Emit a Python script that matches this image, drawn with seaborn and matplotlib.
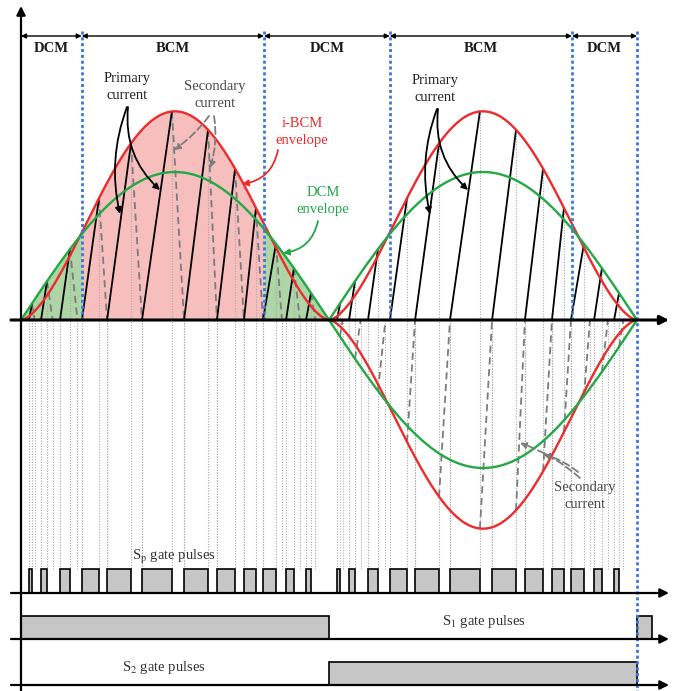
import numpy as np
import pandas as pd
import matplotlib
matplotlib.use("Agg")
import matplotlib.pyplot as plt
import seaborn as sns

# ---- switching pattern over one half line cycle (electrical degrees) ----
on_deg = [4.7, 11.7, 22.8, 35.6, 50.3, 70.7, 95.3, 114.5, 130.3, 141.4, 154.9, 166.6]
off_deg = [6.4, 15.2, 28.6, 45.6, 64.3, 88.2, 109.3, 125.1, 137.3, 149.0, 159.5, 169.5]
sec_end_deg = [8.0, 18.5, 33.0, 50.3, 70.7, 95.3, 114.5, 130.3, 141.4, 152.5, 163.0, 172.0]
pulse_mode = ["DCM", "DCM", "DCM", "BCM", "BCM", "BCM",
              "BCM", "BCM", "BCM", "DCM", "DCM", "DCM"]

# operating-mode segments across the full line cycle
mode_bounds = [0.0, 35.5, 142.0, 215.5, 322.0, 360.0]
mode_labels = ["DCM", "BCM", "DCM", "BCM", "DCM"]

# envelope amplitudes (per unit of the DCM peak) and i-BCM envelope shape
dcm_peak = 1.0
bcm_peak = 1.41
bcm_shape_exp = 1.6

# line-frequency switch gate signals
s1_on = [0.0, 360.0]
s1_off = [180.0, 368.5]
s2_on = [180.0]
s2_off = [360.0]

# ---- layout ----
W, H = 679, 691
X0 = 21                      # vertical axis position (px)
PX_PER_DEG = 308 / 180
Y_ZERO, AMP_PX = 320, 148    # current trace baseline and scale
SP_BASE, SP_H = 593, 24
S1_BASE, S1_H = 639, 23
S2_BASE, S2_H = 685, 23

RED, GREEN, BLUE = "#EE2B2B", "#22A845", "#3C78D8"
PINK_FILL, GREEN_FILL = "#F7BEBE", "#AED5A6"
GUIDE, SEC_GRAY, PULSE_FILL = "#A8A8A8", "#7C7C7C", "#C6C6C6"
SERIF = "Liberation Serif"


def dx(px):
    return (px - X0) / PX_PER_DEG


def cur_y(i):
    return Y_ZERO - np.asarray(i) * AMP_PX


def dcm_env(th):
    return dcm_peak * np.sin(np.radians(th))


def bcm_env(th):
    return bcm_peak * np.abs(np.sin(np.radians(th))) ** bcm_shape_exp


sns.set_theme(style="white")
plt.rcParams["font.family"] = [SERIF, "DejaVu Serif"]
plt.rcParams["mathtext.fontset"] = "stix"

fig = plt.figure(figsize=(W / 100, H / 100), dpi=100)
ax = fig.add_axes([0, 0, 1, 1])

theta = np.linspace(0, 180, 721)

# ---- filled areas (first half cycle) ----
bcm_mask = (theta >= mode_bounds[1]) & (theta <= mode_bounds[2])
ax.fill_between(theta[bcm_mask], Y_ZERO, cur_y(bcm_env(theta[bcm_mask])),
                color=PINK_FILL, lw=0, zorder=1)
for a, b in [(mode_bounds[0], mode_bounds[1]), (mode_bounds[2], 180.0)]:
    m = (theta >= a) & (theta <= b)
    ax.fill_between(theta[m], Y_ZERO, cur_y(dcm_env(theta[m])),
                    color=GREEN_FILL, lw=0, zorder=1)

# ---- ramps, secondary currents and guides ----
ramp_rows, sec_rows, guides = [], [], []
seg = 0
for half, sign in [(0.0, 1), (180.0, -1)]:
    for t_on, t_off, t_end, mode in zip(on_deg, off_deg, sec_end_deg, pulse_mode):
        pk = bcm_env(t_off) if mode == "BCM" else dcm_env(t_off)
        ramp_rows += [(seg, t_on + half, Y_ZERO), (seg, t_off + half, cur_y(pk))]
        sec_peak = cur_y(pk) if sign > 0 else cur_y(-pk)
        sec_rows += [(seg, t_off + half, sec_peak), (seg, t_end + half, Y_ZERO)]
        guides += [(t_on + half, Y_ZERO), (t_off + half, cur_y(pk)),
                   (t_end + half, Y_ZERO)]
        seg += 1
ramps = pd.DataFrame(ramp_rows, columns=["seg", "deg", "y"])
secs = pd.DataFrame(sec_rows, columns=["seg", "deg", "y"])

gx = [g[0] for g in guides]
gy = [g[1] for g in guides]
ax.vlines(gx, gy, SP_BASE - SP_H, colors=GUIDE, lw=0.8,
          linestyles=(0, (1, 1.4)), zorder=1.5)

sns.lineplot(data=secs, x="deg", y="y", units="seg", estimator=None, sort=False,
             color=SEC_GRAY, lw=1.3, linestyle=(0, (4, 2.5)), ax=ax, zorder=2)
sns.lineplot(data=ramps, x="deg", y="y", units="seg", estimator=None, sort=False,
             color="black", lw=1.3, ax=ax, zorder=2.5)

# ---- envelopes ----
env_rows = []
for name, fn in [("i-BCM", bcm_env), ("DCM", dcm_env)]:
    v = fn(theta)
    env_rows.append(pd.DataFrame({"deg": theta, "y": cur_y(v), "curve": name, "branch": name + "1"}))
    env_rows.append(pd.DataFrame({"deg": theta + 180, "y": cur_y(v), "curve": name, "branch": name + "2"}))
    env_rows.append(pd.DataFrame({"deg": theta + 180, "y": cur_y(-v), "curve": name, "branch": name + "3"}))
env = pd.concat(env_rows, ignore_index=True)
sns.lineplot(data=env, x="deg", y="y", hue="curve", units="branch", estimator=None,
             sort=False, palette={"i-BCM": RED, "DCM": GREEN}, lw=1.7,
             legend=False, ax=ax, zorder=3)

# ---- mode boundaries ----
for b in mode_bounds[1:-1]:
    ax.vlines(b, 31, Y_ZERO, colors=BLUE, lw=2.0, linestyles=(0, (1.1, 1.0)), zorder=5)
ax.vlines(mode_bounds[-1], 31, H, colors=BLUE, lw=2.0, linestyles=(0, (1.1, 1.0)), zorder=5)

for a, b, lab in zip(mode_bounds[:-1], mode_bounds[1:], mode_labels):
    ax.annotate("", xy=(b, 36), xytext=(a, 36),
                arrowprops=dict(arrowstyle="<|-|>", color="black", lw=1.0,
                                mutation_scale=7, shrinkA=0, shrinkB=0), zorder=6)
    ax.text((a + b) / 2, 48, lab, ha="center", va="center", fontsize=10.5,
            fontweight="bold", color="#1a1a1a", zorder=6)

# ---- gate pulses ----
def gate(ons, offs, base, h):
    ax.bar(ons, -h, width=np.subtract(offs, ons), bottom=base, align="edge",
           color=PULSE_FILL, edgecolor="black", lw=1.2, zorder=3)

gate(on_deg + [t + 180 for t in on_deg], off_deg + [t + 180 for t in off_deg], SP_BASE, SP_H)
gate(s1_on, s1_off, S1_BASE, S1_H)
gate(s2_on, s2_off, S2_BASE, S2_H)

# ---- axes arrows ----
axis_arrow = dict(arrowstyle="-|>", color="black", mutation_scale=13, shrinkA=0, shrinkB=0)
ax.annotate("", xy=(dx(669), Y_ZERO), xytext=(dx(11), Y_ZERO),
            arrowprops=dict(axis_arrow, lw=2.2), zorder=7)
for base in (SP_BASE, S1_BASE, S2_BASE):
    ax.annotate("", xy=(dx(669), base), xytext=(dx(11), base),
                arrowprops=dict(axis_arrow, lw=1.6), zorder=7)
ax.annotate("", xy=(0, 6), xytext=(0, H), arrowprops=dict(axis_arrow, lw=1.6), zorder=7)

# ---- annotations ----
txt = dict(ha="center", va="center", fontsize=10.5, zorder=8, linespacing=1.4)
ax.text(dx(127), 87, "Primary\ncurrent", color="#222222", **txt)
ax.text(dx(435), 89, "Primary\ncurrent", color="#222222", **txt)
ax.text(dx(215), 95, "Secondary\ncurrent", color="#4a4a4a", **txt)
ax.text(dx(585), 496, "Secondary\ncurrent", color="#4a4a4a", **txt)
ax.text(dx(302), 132, "i-BCM\nenvelope", color=RED, **txt)
ax.text(dx(323), 201, "DCM\nenvelope", color=GREEN, **txt)
ax.text(dx(174), 557, r"S$_\mathrm{p}$ gate pulses", color="#333333", **txt)
ax.text(dx(484), 622, r"S$_\mathrm{1}$ gate pulses", color="#333333", **txt)
ax.text(dx(164), 667, r"S$_\mathrm{2}$ gate pulses", color="#333333", **txt)


def pointer(start, end, color, rad, ls="-"):
    ax.annotate("", xy=(dx(end[0]), end[1]), xytext=(dx(start[0]), start[1]),
                arrowprops=dict(arrowstyle="-|>", color=color, lw=1.3, ls=ls,
                                mutation_scale=9, shrinkA=0, shrinkB=0,
                                connectionstyle=f"arc3,rad={rad}"), zorder=8)


pointer((127, 107), (120, 214), "black", 0.15)
pointer((128, 107), (160, 190), "black", 0.25)
pointer((437, 109), (430, 214), "black", 0.15)
pointer((438, 109), (468, 190), "black", 0.25)
pointer((209, 116), (174, 150), SEC_GRAY, -0.08, ls=(0, (4, 2)))
pointer((214, 116), (210, 168), SEC_GRAY, -0.12, ls=(0, (4, 2)))
pointer((580, 478), (520, 443), SEC_GRAY, 0.1, ls=(0, (4, 2)))
pointer((578, 472), (543, 454), SEC_GRAY, 0.1, ls=(0, (4, 2)))
pointer((278, 150), (242, 184), RED, -0.35)
pointer((318, 221), (283, 253), GREEN, -0.35)

ax.set_xlim(dx(0), dx(W))
ax.set_ylim(H, 0)
ax.axis("off")

fig.savefig("out.png", dpi=100, facecolor="white")
